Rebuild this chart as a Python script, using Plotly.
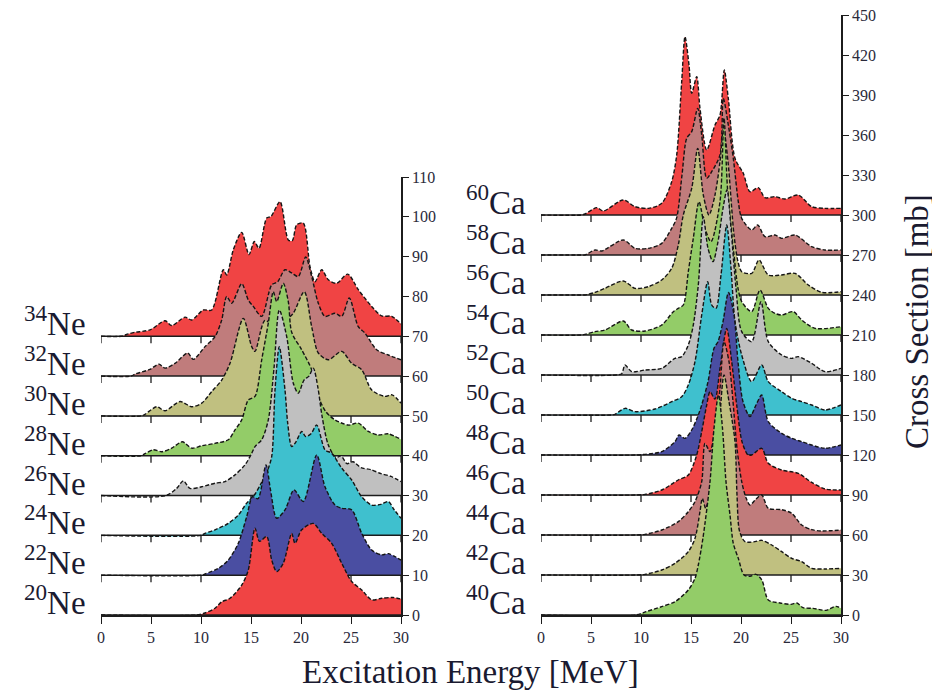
import plotly.graph_objects as go

# ---------------- DATA (excitation energy [MeV], cross section [mb]) ----------------
ne_mass = [20, 22, 24, 26, 28, 30, 32, 34]
ne_offset = [0, 10, 20, 30, 40, 50, 60, 70]
ca_mass = [40, 42, 44, 46, 48, 50, 52, 54, 56, 58, 60]
ca_offset = [0, 30, 60, 90, 120, 150, 180, 210, 240, 270, 300]

E_ne20 = [0, 9.5, 10.4, 11.4, 12.07, 12.9, 14.07, 14.73, 15.4, 15.85, 16.57, 17.07, 17.57, 18.23, 19.07, 19.4, 20.07, 21.23, 22.07, 23.07, 24.07, 25.07, 26.07, 27.07, 28.07, 29.2, 30]
v_ne20 = [0, 0, 0.5, 1.7, 3.3, 4.2, 7.5, 11.3, 21.8, 18.5, 19.7, 13.8, 10.9, 13, 20.5, 18, 21.4, 23, 20.5, 18, 13, 8.4, 6.3, 3.8, 4.2, 4.4, 4.0]

E_ne22 = [0, 10, 10.4, 11.73, 12.73, 13.73, 14.57, 15.15, 15.7, 16.5, 16.95, 17.57, 18.4, 19.3, 20.23, 21.57, 22.4, 23.4, 24.07, 25.07, 26.07, 27.07, 28.07, 28.73, 30]
v_ne22 = [0, 0, 0.3, 1.7, 3.8, 8, 14.7, 19.7, 19.2, 27.7, 21.4, 14.3, 16.4, 21.4, 18.5, 30.2, 22.2, 17.6, 16.8, 16.4, 10.5, 6.3, 5.1, 5.4, 3.8]

E_ne24 = [0, 10, 10.4, 11.4, 12.73, 13.73, 14.57, 15.3, 16.0, 16.6, 17.07, 17.4, 17.83, 18.4, 18.67, 19.07, 19.5, 20.07, 20.47, 21.0, 21.57, 22.4, 23.07, 24.07, 25.07, 26.07, 27.07, 28.0, 28.73, 29.3, 30]
v_ne24 = [0, 0, 0.5, 1.4, 3, 5.1, 8.1, 10, 13, 16, 19.8, 36.5, 47.4, 36.5, 28.2, 22.3, 23.5, 26.1, 24.8, 25.5, 27.7, 21.5, 20.6, 16.9, 13.9, 9.7, 7.6, 7.8, 8.5, 6.5, 4.3]

E_ne26 = [0, 6.5, 7.57, 8.23, 8.9, 10.07, 11.4, 12.4, 13.4, 14.4, 15.07, 15.4, 16.07, 16.73, 17.3, 17.83, 18.57, 19.23, 19.73, 20.3, 20.8, 21.23, 21.7, 22.1, 22.73, 23.5, 24.0, 24.6, 25.2, 26.0, 27.0, 28.0, 29.0, 30]
v_ne26 = [0, 0, 1.8, 3.7, 1.8, 2.2, 3.1, 3.5, 5.2, 7.7, 10.6, 12.3, 14, 19, 32, 46.6, 39.9, 28.2, 25.7, 29, 30, 32, 27, 20, 12.7, 9.5, 10, 8, 8.5, 7, 6.5, 5.5, 4.8, 3.5]

E_ne28 = [0, 4.0, 4.4, 5.23, 6.07, 7.07, 8.13, 9.07, 10.07, 11.4, 12.73, 13.4, 14.07, 14.73, 15.4, 16.07, 16.73, 17.23, 17.57, 18.23, 18.73, 19.07, 20.07, 21.07, 21.73, 22.5, 23.4, 24.73, 25.73, 26.73, 27.73, 28.73, 30]
v_ne28 = [0, 0, 0.5, 1.5, 1.0, 1.9, 3.5, 1.9, 2.5, 3.1, 4, 6.5, 9, 14, 14.9, 24.1, 33.3, 41.2, 38.7, 43.3, 38.7, 31, 26.6, 21.6, 14.9, 11, 9, 7.7, 8.2, 6.1, 5.2, 5.5, 4.1]

E_ne30 = [0, 4.0, 4.4, 5.57, 6.4, 7.9, 9.07, 10.07, 11.07, 12.07, 12.9, 14.23, 15.07, 15.4, 16.4, 17.5, 18.5, 19.23, 20.33, 21.07, 21.73, 22.73, 24.07, 25.07, 26.07, 27.07, 28.4, 29.1, 30]
v_ne30 = [0, 0, 0.4, 2.3, 1.3, 3.6, 2.3, 3.2, 6.1, 9, 13.2, 24.5, 17.4, 16.2, 24, 22, 24, 25.8, 31.2, 22.4, 15.8, 14.1, 16.2, 13.2, 11.6, 6.5, 4.9, 5.3, 3.2]

E_ne32 = [0, 3.0, 3.4, 4.9, 5.8, 6.4, 7.4, 8.67, 9.23, 10.4, 11.4, 12.07, 12.57, 13.07, 14.07, 14.73, 15.23, 16.07, 17.07, 17.67, 18.4, 19.07, 19.73, 20.47, 21.07, 21.73, 22.4, 23.4, 24.07, 24.83, 25.73, 26.4, 27.57, 28.73, 30]
v_ne32 = [0, 0, 0.5, 1.7, 3.0, 2.0, 3.2, 5.8, 4.2, 7.4, 9.9, 14.1, 20, 18.3, 23.2, 19.1, 17.5, 15.0, 22.9, 23.7, 26.7, 25.9, 25, 29.9, 25, 18.3, 15, 15.8, 15, 19.6, 12.4, 10.8, 6.6, 5.3, 4.1]

E_ne34 = [0, 2.0, 2.73, 3.4, 4.9, 6.4, 7.07, 8.4, 9.07, 10.23, 11.07, 12.23, 12.57, 13.23, 14.07, 14.8, 15.33, 15.8, 16.57, 17.0, 17.9, 18.73, 19.13, 19.57, 20.23, 20.9, 21.4, 22.07, 22.73, 23.57, 24.67, 25.73, 27.07, 28.07, 29.07, 30]
v_ne34 = [0, 0, 0.6, 1.0, 1.6, 3.9, 2.7, 4.8, 4.1, 6.6, 6.6, 16.7, 15.4, 21.7, 26.1, 20.5, 23.8, 22.1, 29.7, 30.1, 33.8, 24.2, 24, 28, 28.4, 17.5, 13.7, 16.7, 14.2, 13.3, 15.6, 11.7, 7.5, 5.1, 5.0, 3.1]

E_ca40 = [0, 9.5, 10.5, 12.07, 13.4, 14.73, 15.4, 15.73, 16.2, 16.9, 17.3, 17.75, 18.15, 18.5, 18.9, 19.23, 19.73, 20.3, 20.9, 21.5, 22.1, 22.73, 23.9, 25.0, 25.6, 26.2, 27.2, 28.5, 29.5, 30]
v_ca40 = [0, 0, 2.5, 6.25, 10, 18.75, 27.5, 37.5, 58, 100, 140, 165, 140, 100, 75, 53.75, 42.5, 30, 29, 30.5, 26, 11.25, 9, 8, 9, 5.5, 5, 3.5, 6.5, 5]

E_ca42 = [0, 9.5, 10.4, 12.07, 13.4, 14.73, 15.4, 15.9, 16.13, 16.47, 16.73, 17.2, 17.8, 18.3, 18.8, 19.4, 19.6, 19.85, 20.4, 21.4, 22.07, 23.07, 24.07, 25.07, 26.07, 27.07, 28.4, 30]
v_ca42 = [0, 0, 0.5, 3.75, 8.75, 17.5, 27.5, 47.5, 57.5, 50, 55, 60, 110, 150, 130, 100, 60, 33, 25, 25, 26, 22.5, 17.5, 12.5, 10, 5, 4.5, 5]

E_ca44 = [0, 9.5, 10.4, 12.07, 13.73, 14.73, 15.4, 16.07, 16.4, 16.9, 17.4, 17.9, 18.3, 18.8, 19.2, 19.6, 20.07, 20.5, 20.9, 21.5, 22.07, 22.73, 24.07, 25.07, 26.07, 27.07, 28.0, 30]
v_ca44 = [0, 0, 0.5, 3.75, 10, 17.5, 25, 40, 68.75, 62.5, 80, 110, 145, 130, 100, 65, 40, 28, 22.5, 27, 30, 20, 19, 16.25, 7.5, 4, 3, 3.75]

E_ca46 = [0, 9.5, 10.4, 12.07, 13.73, 14.73, 15.57, 16.07, 16.57, 16.9, 17.4, 17.9, 18.57, 19.07, 19.57, 20.1, 20.7, 21.07, 22.07, 22.73, 24.07, 25.73, 27.07, 28.4, 30]
v_ca46 = [0, 0, 0.5, 3.75, 11.25, 15, 30, 47.5, 67.5, 77.5, 72, 95, 125, 100, 67.5, 40, 30, 30, 35, 23.75, 18.75, 16.25, 9.4, 4.5, 3.75]

E_ca48 = [0, 9.5, 10.4, 12.07, 13.4, 13.8, 14.4, 15.07, 15.73, 16.07, 16.7, 17.3, 17.7, 18.2, 18.75, 19.3, 19.7, 20.2, 20.9, 21.5, 22.07, 22.73, 24.07, 25.07, 26.07, 27.07, 28.4, 30]
v_ca48 = [0, 0, 0.5, 2.5, 10, 15, 12.5, 18.75, 30, 37.5, 55, 80, 85, 100, 122, 105, 70, 40, 28.75, 37.5, 45, 25, 16.25, 12.5, 10, 7.5, 5, 7.5]

E_ca50 = [0, 7.0, 7.4, 8.4, 9.4, 11.4, 13.07, 14.07, 14.73, 15.4, 16.07, 16.67, 17.07, 17.5, 18.0, 18.57, 19.0, 19.4, 20.07, 21.07, 22.07, 22.73, 24.07, 25.07, 26.07, 27.07, 28.4, 30]
v_ca50 = [0, 0, 0.5, 5, 2.5, 4.5, 10, 13.75, 22.5, 40, 75, 100, 82.5, 80, 105, 142.5, 110, 70, 45, 25, 37.5, 25, 17.5, 12.5, 10, 7.5, 3.75, 7.5]

E_ca52 = [0, 7.5, 8.07, 8.4, 9.07, 10.4, 12.07, 13.4, 14.07, 14.73, 15.23, 15.73, 16.23, 16.7, 17.2, 17.7, 18.2, 18.6, 19.0, 19.5, 20.07, 21.07, 22.0, 22.73, 24.07, 25.07, 25.73, 27.07, 28.4, 30]
v_ca52 = [0, 0, 1, 7.5, 2.5, 3.75, 5, 12.5, 13.75, 22.5, 37.5, 67.5, 118.75, 95, 85, 100, 125, 139, 110, 65, 32.5, 25, 55, 25, 15, 12.5, 13.75, 8.75, 2.5, 5]

E_ca54 = [0, 4.0, 4.4, 5.4, 6.4, 8.23, 9.07, 10.4, 12.07, 13.23, 13.73, 14.23, 14.73, 15.23, 15.8, 16.4, 17.0, 17.9, 18.3, 18.65, 19.3, 19.7, 20.07, 21.07, 21.9, 22.73, 23.4, 24.07, 25.23, 26.07, 27.4, 30]
v_ca54 = [0, 0, 0.5, 2.5, 3.75, 10.5, 3.75, 3, 7.5, 17.5, 20, 22.5, 47.5, 72.5, 100, 80, 70, 100, 162.75, 110, 60, 35, 25, 17.5, 33.75, 20, 16.25, 15, 17.5, 11.25, 5, 6.25]

E_ca56 = [0, 4.0, 4.4, 5.4, 6.4, 8.23, 9.4, 10.73, 12.07, 13.07, 13.73, 14.23, 15.07, 15.67, 16.23, 16.8, 17.4, 17.9, 18.25, 18.7, 19.3, 19.7, 20.07, 21.07, 21.8, 22.73, 24.07, 25.4, 26.73, 28.07, 30]
v_ca56 = [0, 0, 0, 2, 5, 10.5, 5, 6.25, 11.25, 20, 37.5, 60, 80, 110, 75, 60, 75, 100, 125, 100, 45, 25, 17.5, 16.25, 26.25, 15, 15, 16.25, 7.5, 2, 2.5]

E_ca58 = [0, 4.0, 4.4, 5.4, 6.07, 8.23, 9.4, 10.73, 12.07, 13.07, 13.57, 14.1, 14.57, 15.07, 15.67, 16.07, 16.57, 17.07, 17.9, 18.23, 18.73, 19.23, 19.73, 20.07, 21.07, 21.67, 22.4, 23.4, 24.07, 25.4, 27.07, 28.4, 30]
v_ca58 = [0, 0, 0, 3.75, 3, 11.25, 5, 5, 8.75, 20, 28, 60, 87.5, 92.5, 110, 90, 57.5, 62.5, 75, 117.5, 97.5, 72.5, 40, 27.5, 18.75, 22.5, 13.75, 15, 12.5, 15, 6.25, 3.75, 3.75]

E_ca60 = [0, 4.0, 4.4, 5.57, 6.23, 8.23, 9.4, 10.73, 12.07, 13.07, 13.57, 14.07, 14.4, 14.8, 15.07, 15.57, 15.9, 16.57, 17.4, 17.9, 18.33, 18.73, 19.4, 20.23, 20.9, 21.73, 22.4, 23.4, 24.4, 25.73, 27.07, 28.4, 30]
v_ca60 = [0, 0, 0.75, 5.5, 3, 11.25, 6.25, 5, 8.75, 25, 45, 100, 133.75, 112.5, 91.25, 103.75, 80, 48.75, 67.5, 75, 108.75, 87.5, 42.5, 31.25, 17.5, 20.5, 13, 13.75, 12, 15, 6.25, 5, 5]

ne_E = [E_ne20, E_ne22, E_ne24, E_ne26, E_ne28, E_ne30, E_ne32, E_ne34]
ne_v = [v_ne20, v_ne22, v_ne24, v_ne26, v_ne28, v_ne30, v_ne32, v_ne34]
ca_E = [E_ca40, E_ca42, E_ca44, E_ca46, E_ca48, E_ca50, E_ca52, E_ca54, E_ca56, E_ca58, E_ca60]
ca_v = [v_ca40, v_ca42, v_ca44, v_ca46, v_ca48, v_ca50, v_ca52, v_ca54, v_ca56, v_ca58, v_ca60]

x_ticks = [0, 5, 10, 15, 20, 25, 30]
ne_yticks = list(range(0, 111, 10))
ca_yticks = list(range(0, 451, 30))

# ---------------- STYLE ----------------
RED, BLUE, CYAN, GRAY, GREEN, KHAKI, ROSY = ("#F04444", "#4A4EA2", "#3FC0CE",
                                             "#C0C0C0", "#93CC68", "#C0C080", "#C07C7C")
ne_colors = [RED, BLUE, CYAN, GRAY, GREEN, KHAKI, ROSY, RED]
ca_colors = [GREEN, KHAKI, ROSY, RED, BLUE, CYAN, GRAY, GREEN, KHAKI, ROSY, RED]

PAGE_PAD = 8                      # browser body margin around the plot div
W, H = 940 - PAGE_PAD, 695 - PAGE_PAD
FONT = "Liberation Serif"
INK = "#1c1c1c"
TXT = "#1a1a30"
# panel geometry in window pixels (converted to figure pixels below)
L_X0, L_X1, R_X0, R_X1 = 101 - PAGE_PAD, 401 - PAGE_PAD, 541 - PAGE_PAD, 841 - PAGE_PAD
Y_BOT, L_TOP, R_TOP = 615 - PAGE_PAD, 177 - PAGE_PAD, 15 - PAGE_PAD
TICK_PX = 7

fig = go.Figure()


def add_panel(names, offsets, Es, vs, colors, xa, ya, ymax, top_px, elem):
    units_per_px = ymax / (Y_BOT - top_px)
    tl = TICK_PX * units_per_px
    order = list(range(len(names)))[::-1]  # back (top) first
    for i in order:
        off = offsets[i]
        if off > 0:
            tx, ty = [], []
            for t in x_ticks:
                tx += [t, t, None]
                ty += [off, off - tl, None]
            fig.add_trace(go.Scatter(x=tx, y=ty, mode="lines", xaxis=xa, yaxis=ya,
                                     line=dict(color=INK, width=1.3), hoverinfo="skip"))
        fig.add_trace(go.Scatter(x=[x_ticks[0], x_ticks[-1]], y=[off, off], mode="lines",
                                 xaxis=xa, yaxis=ya, line=dict(color=INK, width=1.5),
                                 hoverinfo="skip"))
        fig.add_trace(go.Scatter(x=Es[i], y=[off + v for v in vs[i]], mode="lines",
                                 xaxis=xa, yaxis=ya, fill="tonexty", fillcolor=colors[i],
                                 line=dict(color="#151515", width=1.4, dash="4px,2px",
                                           shape="spline", smoothing=0.8),
                                 hoverinfo="skip"))
        fig.add_annotation(x=0, y=off, xref=xa, yref=ya, xanchor="right", yanchor="bottom",
                           xshift=-13, yshift=-8, showarrow=False,
                           text=f"<sup>{names[i]}</sup>{elem}",
                           font=dict(family=FONT, size=33, color=TXT))


add_panel(ne_mass, ne_offset, ne_E, ne_v, ne_colors, "x", "y", 110, L_TOP, "Ne")
add_panel(ca_mass, ca_offset, ca_E, ca_v, ca_colors, "x2", "y2", 450, R_TOP, "Ca")

axis_common = dict(showgrid=False, zeroline=False, showline=True, linecolor=INK, linewidth=1.5,
                   ticks="outside", tickcolor=INK, tickwidth=1.3, ticklabeloverflow="allow",
                   tickfont=dict(family=FONT, size=16, color="#2a2a3a"))

fig.update_layout(
    width=W, height=H, margin=dict(l=0, r=0, t=0, b=0),
    template="none", paper_bgcolor="white", plot_bgcolor="rgba(0,0,0,0)",
    showlegend=False, hovermode=False,
    xaxis=dict(domain=[L_X0 / W, L_X1 / W], range=[0, 30], anchor="y", tickvals=x_ticks,
               ticklen=TICK_PX, **axis_common),
    yaxis=dict(domain=[(H - Y_BOT) / H, (H - L_TOP) / H], range=[0, 110], anchor="x",
               side="right", tickvals=ne_yticks, ticklen=6, **axis_common),
    xaxis2=dict(domain=[R_X0 / W, R_X1 / W], range=[0, 30], anchor="y2", tickvals=x_ticks,
                ticklen=TICK_PX, **axis_common),
    yaxis2=dict(domain=[(H - Y_BOT) / H, (H - R_TOP) / H], range=[0, 450], anchor="x2",
                side="right", tickvals=ca_yticks, ticklen=6, **axis_common),
)

fig.add_annotation(x=(470 - PAGE_PAD) / W, y=(H - (672 - PAGE_PAD)) / H, xref="paper",
                   yref="paper", showarrow=False, text="Excitation Energy [MeV]",
                   xanchor="center", yanchor="middle",
                   font=dict(family=FONT, size=33, color=TXT))
fig.add_annotation(x=(917 - PAGE_PAD) / W, y=(H - (322 - PAGE_PAD)) / H, xref="paper",
                   yref="paper", showarrow=False, text="Cross Section [mb]", textangle=-90,
                   xanchor="center", yanchor="middle",
                   font=dict(family=FONT, size=33, color=TXT))

fig.write_html("out.html")
